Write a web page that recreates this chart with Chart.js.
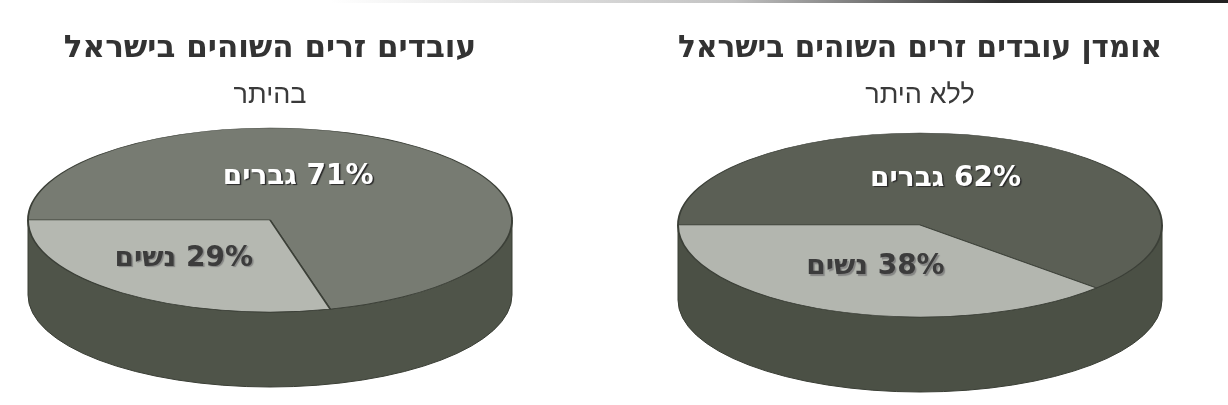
<!DOCTYPE html>
<html lang="he" dir="rtl">
<head>
<meta charset="utf-8">
<script src="https://cdn.jsdelivr.net/npm/chart.js@4.4.1/dist/chart.umd.min.js"></script>
<style>
    html, body { margin: 0; padding: 0; background: #fff; }
    body { width: 1228px; height: 405px; position: relative; overflow: hidden; }
    canvas { position: absolute; top: 0; }
    #legalPie { left: 0; }
    #illegalPie { left: 650px; }
    .scanEdge {
        position: absolute; top: 0; left: 330px; right: 0; height: 3px;
        background: linear-gradient(to right, rgba(80, 80, 80, 0), rgba(80, 80, 80, 0.35) 45%, #2b2b2b 75%, #222);
    }
</style>
</head>
<body>
<div class="scanEdge"></div>
<canvas id="legalPie" width="540" height="405"></canvas>
<canvas id="illegalPie" width="540" height="405"></canvas>

<script>
const categories = ["גברים", "נשים"];
const legalShare = [71, 29];
const illegalShare = [62, 38];

const titles = ["עובדים זרים השוהים בישראל", "אומדן עובדים זרים השוהים בישראל"];
const subtitles = ["בהיתר", "ללא היתר"];

// squashes the library's pie into an ellipse and adds the cylinder side under it
const pie3d = {
    id: "pie3d",

    beforeDatasetsDraw(chart, args, opts) {
        const ctx = chart.ctx;
        const area = chart.chartArea;
        const arc = chart.getDatasetMeta(0).data[0];

        const rx = (area.right - area.left) / 2;
        const ry = rx * opts.tilt;
        const depth = area.bottom - area.top - 2 * ry;
        const cx = (area.left + area.right) / 2;
        const cy = area.top + ry;
        chart.$disc = { cx, cy, rx, ry, arc };

        ctx.save();

        ctx.beginPath();
        ctx.ellipse(cx, cy + depth, rx, ry, 0, 0, Math.PI);
        ctx.lineTo(cx - rx, cy);
        ctx.ellipse(cx, cy, rx, ry, 0, Math.PI, 0, true);
        ctx.closePath();
        ctx.fillStyle = opts.sideColor;
        ctx.fill();
        ctx.lineWidth = 1;
        ctx.strokeStyle = opts.edgeColor;
        ctx.stroke();

        ctx.translate(cx, cy);
        ctx.scale(rx / arc.outerRadius, ry / arc.outerRadius);
        ctx.translate(-arc.x, -arc.y);
    },

    afterDatasetsDraw(chart, args, opts) {
        const ctx = chart.ctx;
        ctx.restore();

        const { cx, cy, rx, ry, arc } = chart.$disc;
        const r = arc.outerRadius;
        const values = chart.data.datasets[0].data;

        chart.getDatasetMeta(0).data.forEach((el, i) => {
            const p = el.tooltipPosition();
            const x = cx + (p.x - arc.x) * rx / r + opts.nudges[i][0];
            const y = cy + (p.y - arc.y) * ry / r + opts.nudges[i][1];

            ctx.save();
            ctx.direction = "rtl";
            ctx.textAlign = "center";
            ctx.textBaseline = "middle";
            ctx.font = "bold 28px 'DejaVu Sans', sans-serif";
            ctx.shadowColor = opts.shadowColors[i];
            ctx.shadowOffsetX = 1.5;
            ctx.shadowOffsetY = 1.5;
            ctx.shadowBlur = 1;
            ctx.fillStyle = opts.labelColors[i];
            ctx.fillText(values[i] + "% " + chart.data.labels[i], x, y);
            ctx.restore();
        });
    }
};

function makePie(id, title, subtitle, values, colors, sideColor, gapBelow, nudges) {
    return new Chart(document.getElementById(id), {
        type: "pie",
        data: {
            labels: categories,
            datasets: [{
                data: values,
                backgroundColor: colors,
                borderColor: "#3b3f37",
                borderWidth: 1,
                clip: false
            }]
        },
        options: {
            responsive: false,
            animation: false,
            rotation: 270,
            layout: {
                padding: { left: 28, right: 28, top: 0, bottom: 405 - 128 - gapBelow - 259 }
            },
            plugins: {
                legend: { display: false },
                tooltip: { enabled: false },
                title: {
                    display: true,
                    text: title,
                    color: "#333333",
                    font: { family: "'DejaVu Sans', sans-serif", size: 31, weight: "bold" },
                    padding: { top: 30, bottom: 12 }
                },
                subtitle: {
                    display: true,
                    text: subtitle,
                    color: "#3a3a3a",
                    font: { family: "'Liberation Sans', 'DejaVu Sans', sans-serif", size: 27, weight: "normal" },
                    padding: { top: 0, bottom: 16.4 + gapBelow }
                },
                pie3d: {
                    tilt: 92 / 242,
                    sideColor: sideColor,
                    edgeColor: "#3a3e35",
                    labelColors: ["#ffffff", "#3c3c3c"],
                    shadowColors: ["#2a2a2a", "rgba(120,120,120,0.8)"],
                    nudges: nudges
                }
            }
        },
        plugins: [pie3d]
    });
}

makePie("legalPie", titles[0], subtitles[0], legalShare,
    ["#777b72", "#b5b8b1"], "#4f5449", 0, [[-46, -7], [-12, 2]]);

makePie("illegalPie", titles[1], subtitles[1], illegalShare,
    ["#5b5f55", "#b3b6af"], "#4b5045", 5, [[-19, -4], [0, -1]]);
</script>
</body>
</html>
